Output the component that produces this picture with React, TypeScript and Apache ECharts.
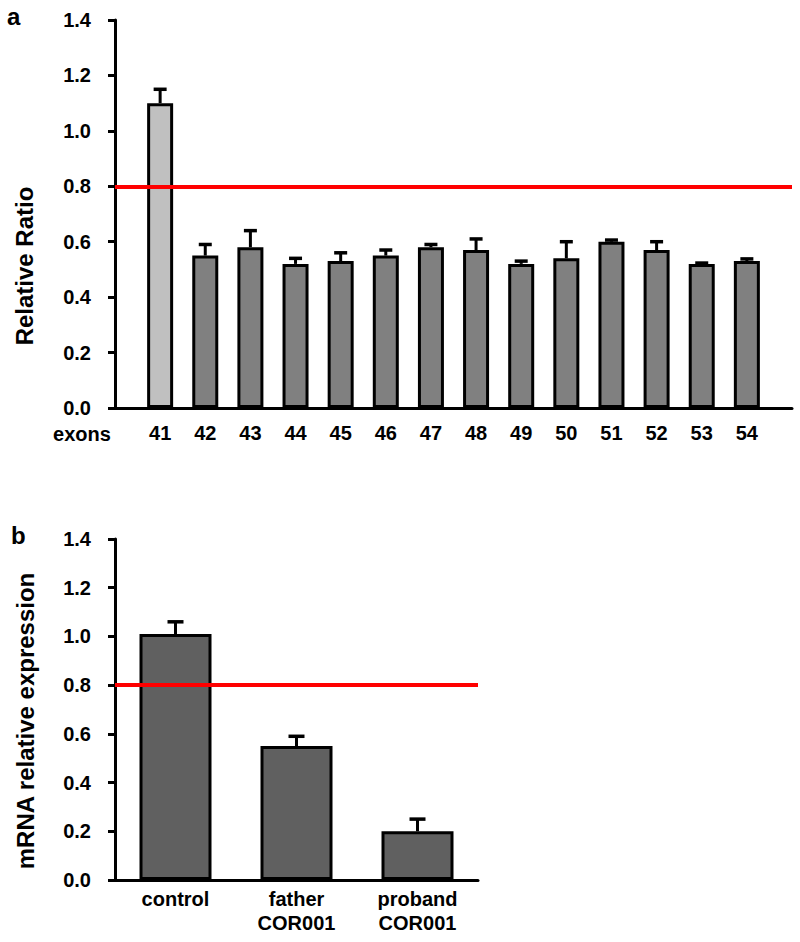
import React, { useEffect, useRef } from "react";
import * as echarts from "echarts";

// Panel a: exon copy-number ratios
const EXONS = ["41", "42", "43", "44", "45", "46", "47", "48", "49", "50", "51", "52", "53", "54"];
const RATIO = [1.1, 0.55, 0.58, 0.52, 0.53, 0.55, 0.58, 0.57, 0.52, 0.54, 0.6, 0.57, 0.52, 0.53];
const RATIO_ERR = [0.05, 0.04, 0.06, 0.02, 0.03, 0.02, 0.01, 0.04, 0.01, 0.06, 0.006, 0.03, 0.003, 0.008];

// Panel b: mRNA relative expression
const SAMPLES = ["control", "father\nCOR001", "proband\nCOR001"];
const EXPR = [1.01, 0.55, 0.2];
const EXPR_ERR = [0.05, 0.04, 0.05];

const THRESHOLD = 0.8;

const FONT = "'Liberation Sans', Arial, Helvetica, sans-serif";

function errorSeries(xIndex: number, data: any[], capHalf: number) {
  return {
    type: "custom",
    xAxisIndex: xIndex,
    yAxisIndex: xIndex,
    z: 5,
    data,
    renderItem: (params: any, api: any) => {
      const x = api.value(0);
      const y = api.value(1);
      const e = api.value(2);
      const base = api.coord([x, y]);
      const top = api.coord([x, y + e]);
      return {
        type: "group",
        children: [
          {
            type: "line",
            shape: { x1: base[0], y1: base[1], x2: top[0], y2: top[1] },
            style: { stroke: "#000", lineWidth: 3 },
          },
          {
            type: "line",
            shape: { x1: top[0] - capHalf, y1: top[1], x2: top[0] + capHalf, y2: top[1] },
            style: { stroke: "#000", lineWidth: 3.5 },
          },
        ],
      };
    },
  };
}

function yAxisCfg(gridIndex: number) {
  return {
    type: "value",
    gridIndex,
    min: 0,
    max: 1.4,
    interval: 0.2,
    axisLine: { show: true, lineStyle: { color: "#000", width: 3 } },
    axisTick: { show: true, inside: false, length: 7, lineStyle: { color: "#000", width: 3 } },
    splitLine: { show: false },
    axisLabel: {
      margin: 24,
      color: "#000",
      fontFamily: FONT,
      fontWeight: "bold",
      fontSize: 20,
      formatter: (v: number) => v.toFixed(1),
    },
  };
}

const redLine = {
  silent: true,
  symbol: ["none", "none"],
  label: { show: false },
  lineStyle: { color: "#ff0000", width: 4, type: "solid" },
  data: [{ yAxis: THRESHOLD }],
};

export default function App() {
  const ref = useRef<HTMLDivElement>(null);
  useEffect(() => {
    if (!ref.current) return;
    const chart = echarts.init(ref.current, null, { renderer: "svg" });
    const catsA = ["", ...EXONS, ""];
    chart.setOption({
      animation: false,
      backgroundColor: "#fff",
      grid: [
        { left: 115, top: 20, right: 8, bottom: 534 },
        { left: 115, top: 539, width: 363, bottom: 62 },
      ],
      xAxis: [
        {
          type: "category",
          gridIndex: 0,
          data: catsA,
          boundaryGap: false,
          axisLine: { show: true, lineStyle: { color: "#000", width: 3 } },
          axisTick: { show: false },
          splitLine: { show: false },
          axisLabel: {
            interval: 0,
            margin: 15,
            color: "#000",
            fontFamily: FONT,
            fontWeight: "bold",
            fontSize: 20,
          },
        },
        {
          type: "category",
          gridIndex: 1,
          data: SAMPLES,
          boundaryGap: true,
          axisLine: { show: true, lineStyle: { color: "#000", width: 3 } },
          axisTick: { show: false },
          splitLine: { show: false },
          axisLabel: {
            interval: 0,
            margin: 7,
            color: "#000",
            fontFamily: FONT,
            fontWeight: "bold",
            fontSize: 20,
            lineHeight: 24,
          },
        },
      ],
      yAxis: [yAxisCfg(0), yAxisCfg(1)],
      series: [
        {
          type: "bar",
          xAxisIndex: 0,
          yAxisIndex: 0,
          barWidth: 26,
          data: EXONS.map((e, i) => [e, RATIO[i]]),
          itemStyle: {
            color: (p: any) => (p.dataIndex === 0 ? "#c0c0c0" : "#808080"),
            borderColor: "#000",
            borderWidth: 3,
          },
          markLine: redLine,
        },
        errorSeries(0, EXONS.map((e, i) => [i + 1, RATIO[i], RATIO_ERR[i]]), 6.5),
        {
          type: "bar",
          xAxisIndex: 1,
          yAxisIndex: 1,
          barWidth: 72,
          data: EXPR,
          itemStyle: { color: "#606060", borderColor: "#000", borderWidth: 3 },
          markLine: redLine,
        },
        errorSeries(1, SAMPLES.map((s, i) => [i, EXPR[i], EXPR_ERR[i]]), 8),
      ],
      graphic: [
        {
          type: "text",
          left: 7,
          top: 4,
          style: { text: "a", font: `bold 24px ${FONT}`, fill: "#000" },
        },
        {
          type: "text",
          left: 11,
          top: 523,
          style: { text: "b", font: `bold 24px ${FONT}`, fill: "#000" },
        },
        {
          type: "text",
          x: 24,
          y: 266,
          rotation: Math.PI / 2,
          style: {
            text: "Relative Ratio",
            font: `bold 24px ${FONT}`,
            fill: "#000",
            align: "center",
            verticalAlign: "middle",
          },
        },
        {
          type: "text",
          x: 25,
          y: 721,
          rotation: Math.PI / 2,
          style: {
            text: "mRNA relative expression",
            font: `bold 24px ${FONT}`,
            fill: "#000",
            align: "center",
            verticalAlign: "middle",
          },
        },
        {
          type: "text",
          x: 82,
          y: 434,
          style: {
            text: "exons",
            font: `bold 20px ${FONT}`,
            fill: "#000",
            align: "center",
            verticalAlign: "middle",
          },
        },
      ],
    });
    return () => chart.dispose();
  }, []);
  return (
    <div
      ref={ref}
      style={{ position: "absolute", left: 0, top: 0, width: 800, height: 942 }}
    />
  );
}
